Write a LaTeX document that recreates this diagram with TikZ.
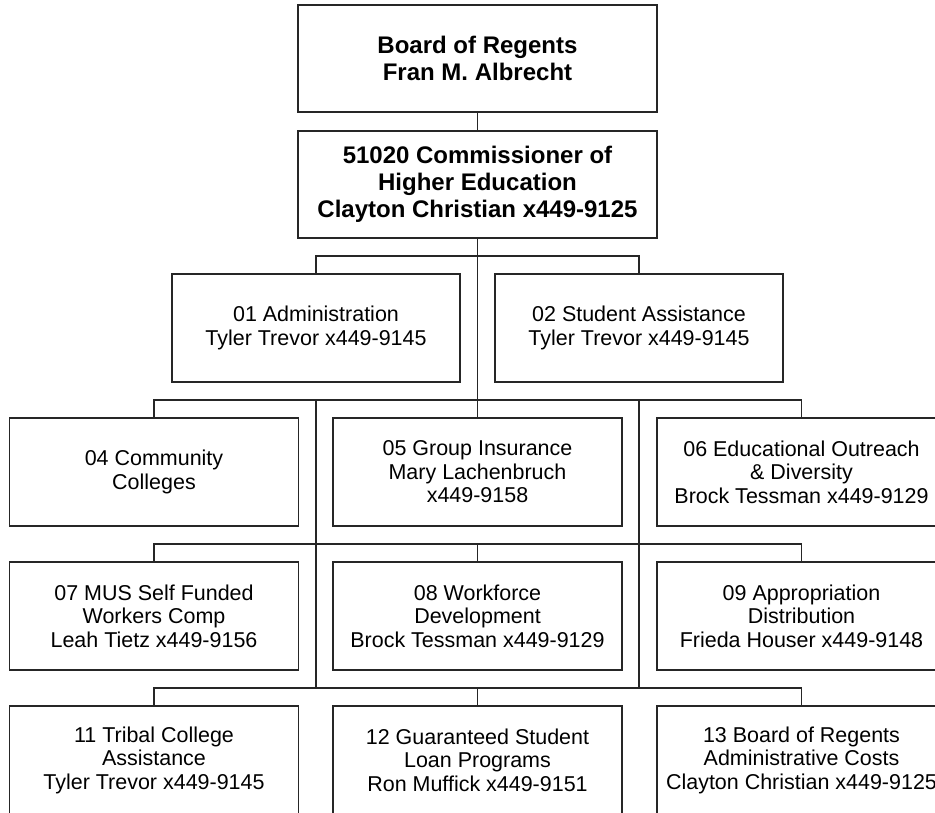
\documentclass[tikz,border=0pt]{standalone}
\usepackage{fontspec}
\setmainfont{Liberation Sans}

\begin{document}
\begin{tikzpicture}[x=0.75pt, y=-0.75pt,
	unitbox/.style={draw=black!85, line width=0.9pt, align=center, inner sep=0pt, minimum width=216.75pt, minimum height=81pt, font=\fontsize{16.1}{17.6}\selectfont},
	headbox/.style={unitbox, minimum width=269.25pt, minimum height=80.25pt, font=\fontsize{18}{20.25}\selectfont\bfseries},
	link/.style={draw=black!85, line width=0.9pt}]
		%%%%% START %%%%%
		
		\useasboundingbox (0, 0) rectangle (935, 813);
		\clip (0, 0) rectangle (935, 813);
		
		\node[headbox] (board) at (477.5, 58.5) {Board of Regents\\Fran M. Albrecht};
		\node[headbox] (comm) at (477.5, 184.5) {51020 Commissioner of\\Higher Education\\Clayton Christian x449-9125};
		
		\node[unitbox, minimum width=216pt] (adm) at (316, 328) {01 Administration\\Tyler Trevor x449-9145};
		\node[unitbox, minimum width=216pt] (stu) at (639, 328) {02 Student Assistance\\Tyler Trevor x449-9145};
		
		\node[unitbox] (cc) at (154, 472) {04 Community\\Colleges};
		\node[unitbox] (grp) at (477.5, 472) {05 Group Insurance\\Mary Lachenbruch\\x449-9158};
		\node[unitbox] (div) at (801.5, 472) {06 Educational Outreach\\\& Diversity\\Brock Tessman x449-9129};
		
		\node[unitbox] (mus) at (154, 616) {07 MUS Self Funded\\Workers Comp\\Leah Tietz x449-9156};
		\node[unitbox] (wfd) at (477.5, 616) {08 Workforce\\Development\\Brock Tessman x449-9129};
		\node[unitbox] (appr) at (801.5, 616) {09 Appropriation\\Distribution\\Frieda Houser x449-9148};
		
		\node[unitbox] (tribal) at (154, 760) {11 Tribal College\\Assistance\\Tyler Trevor x449-9145};
		\node[unitbox] (loan) at (477.5, 760) {12 Guaranteed Student\\Loan Programs\\Ron Muffick x449-9151};
		\node[unitbox] (admin) at (801.5, 760) {13 Board of Regents\\Administrative Costs\\Clayton Christian x449-9125};
		
		\coordinate (bus2) at (0, 256);
		\coordinate (bus3) at (0, 400);
		\coordinate (bus4) at (0, 544);
		\coordinate (bus5) at (0, 688);
		
		\draw[link] (board) -- (comm);
		\draw[link] (comm) -- (grp);
		\draw[link] (adm.north) -- (adm.north |- bus2) -| (stu.north);
		
		\draw[link] (cc.north) -- (cc.north |- bus3) -| (div.north);
		\draw[link] (adm.south |- bus3) -- (adm.south |- bus5);
		\draw[link] (stu.south |- bus3) -- (stu.south |- bus5);
		
		\draw[link] (mus.north) -- (mus.north |- bus4) -| (appr.north);
		\draw[link] (wfd.north) -- (wfd.north |- bus4);
		
		\draw[link] (tribal.north) -- (tribal.north |- bus5) -| (admin.north);
		\draw[link] (loan.north) -- (loan.north |- bus5);
		
		%%%%% END %%%%%
	\end{tikzpicture}
\end{document}
